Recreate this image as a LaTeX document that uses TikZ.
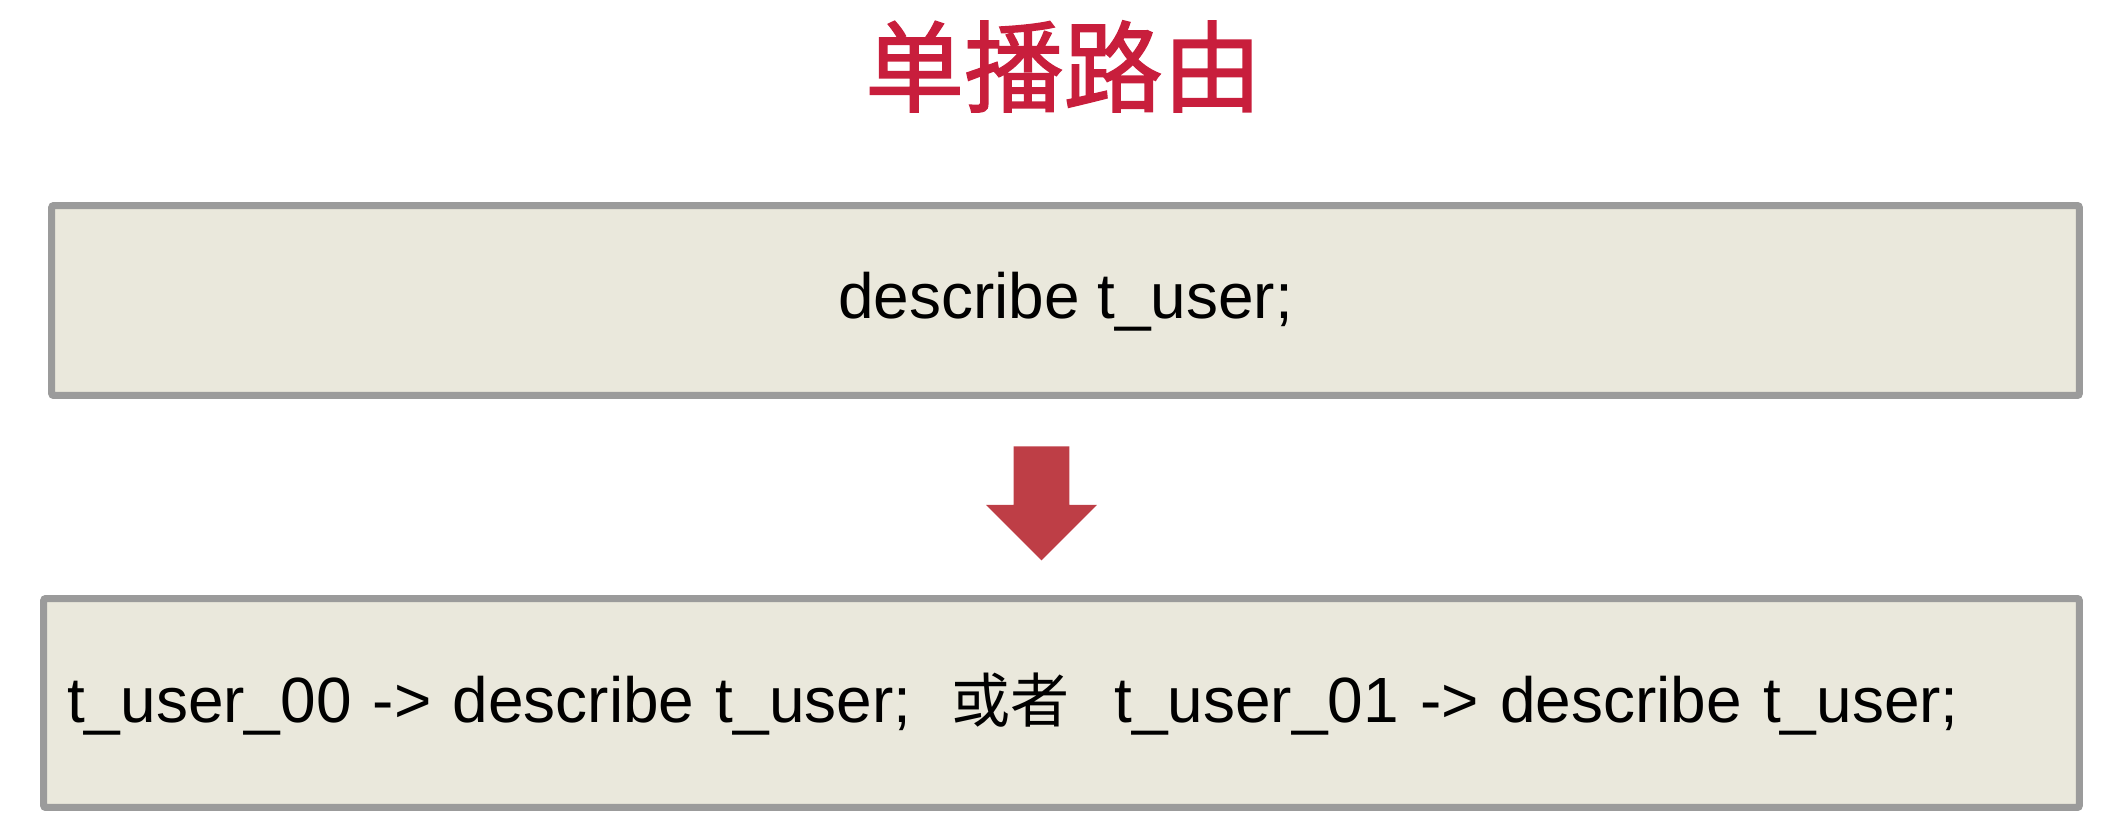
\documentclass[tikz,border=0pt]{standalone}
\usepackage{fontspec}
\setmainfont{Liberation Sans}
\newfontfamily\cjk{Noto Sans CJK SC}
\newfontfamily\cjktitle{Noto Sans CJK SC}[FakeBold=1.6]
\usetikzlibrary{shapes.arrows}

\definecolor{titlered}{RGB}{200,30,60}
\definecolor{arrowred}{RGB}{190,62,70}
\definecolor{boxfill}{RGB}{234,232,220}
\definecolor{boxline}{RGB}{155,155,155}

\tikzset{%
		every sqlbox/.style={
			rectangle,
			draw=boxline,
			fill=boxfill,
			line width=0.14cm,
			rounded corners=0.04cm,
			font=\fontsize{36.4pt}{40pt}\selectfont
		},
		route arrow/.style={
			single arrow,
			fill=arrowred,
			rotate=-90,
			inner xsep=0pt,
			inner ysep=0.55cm,
			minimum height=2.28cm,
			minimum width=2.2cm,
			single arrow head extend=0.55cm,
			single arrow tip angle=90
		},
	}

\begin{document}
\begin{tikzpicture}[x=0.02cm, y=-0.02cm]
			\useasboundingbox (0,0) rectangle (2120,829);
			
			% draw title
			\node [text=titlered, font=\cjktitle\fontsize{56.5pt}{60pt}\selectfont] (title) at (1063.5,66.5) {单播路由};
			
			% draw logical statement box
			\node [every sqlbox/.try, minimum width=40.56cm, minimum height=3.8cm,
				text height=0.84cm, text depth=0.14cm] (logic) at (1065.5,300.5) {describe t\_user;};
			
			% draw routing arrow
			\node [route arrow, anchor=tail] (route) at (1041.5,446) {};
			
			% draw actual statement box
			\node [every sqlbox/.try, minimum width=40.72cm, minimum height=4.18cm,
				text height=0.9cm, text depth=0.14cm, inner xsep=0.47cm,
				text width=39.78cm, align=left] (actual) at (1061.5,703)
				{t\_user\_00 -> describe t\_user;\hspace{0.8cm}{\cjk\fontsize{33.6pt}{40pt}\selectfont 或者}\hspace{0.9cm}t\_user\_01 -> describe t\_user;};
\end{tikzpicture}
\end{document}
